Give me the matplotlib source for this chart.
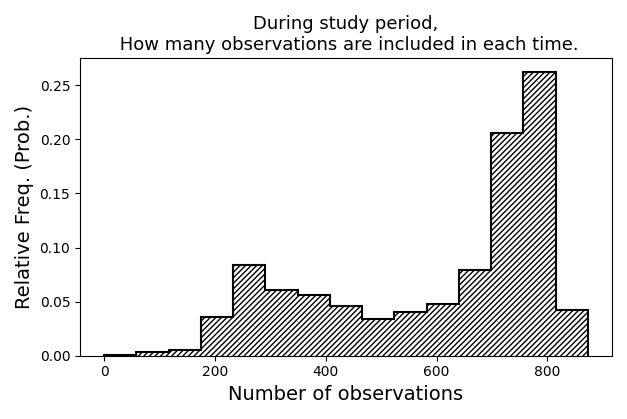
import numpy as np
import matplotlib
matplotlib.use("Agg")
import matplotlib.pyplot as plt

# bin edges and relative frequencies
edges = [0, 58.2, 116.4, 174.6, 232.8, 291, 349.2, 407.4, 465.6, 523.8, 582, 640.2, 698.4, 756.6, 814.8, 873]
freqs = [0.001, 0.003, 0.005, 0.036, 0.084, 0.061, 0.056, 0.046, 0.034, 0.040, 0.048, 0.079, 0.206, 0.262, 0.042]

fig, ax = plt.subplots(figsize=(6.27, 4.19), dpi=100)
ax.stairs(freqs, edges, fill=True, facecolor="white", edgecolor="black", hatch="//////", linewidth=0)
ax.stairs(freqs, edges, color="black", linewidth=1.5)
ax.set_ylim(0, 0.275)
ax.set_title("During study period,\n How many observations are included in each time.", fontsize=13)
ax.set_xlabel("Number of observations", fontsize=14)
ax.set_ylabel("Relative Freq. (Prob.)", fontsize=14)
plt.tight_layout()
fig.savefig("out.png", dpi=100)
